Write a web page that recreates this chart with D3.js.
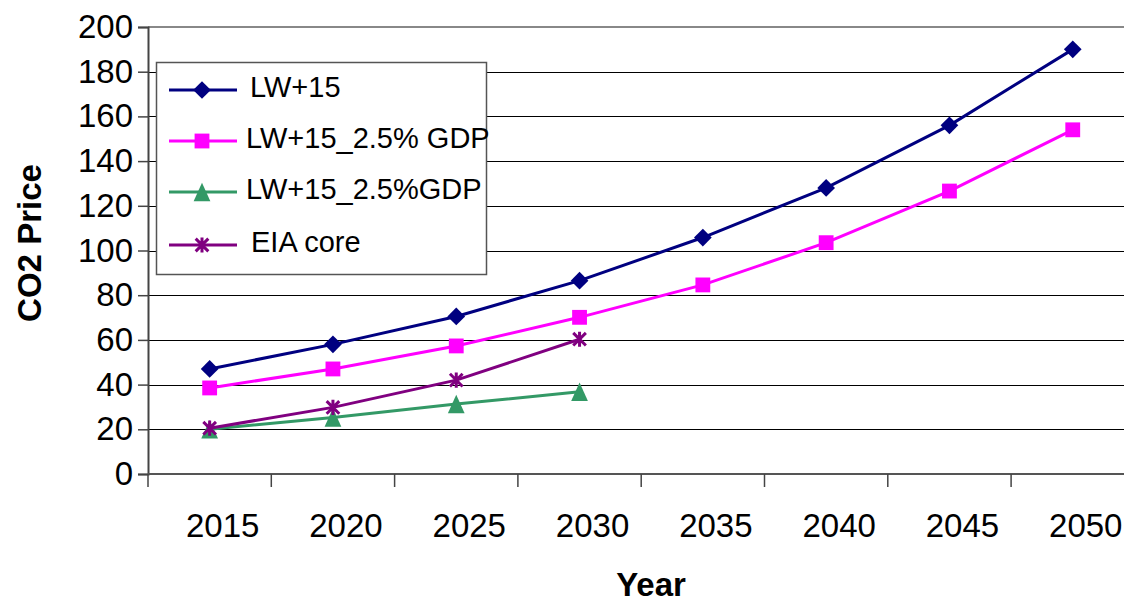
<!DOCTYPE html>
<html>
<head>
<meta charset="utf-8">
<script src="https://cdn.jsdelivr.net/npm/d3@7"></script>
<style>
  body { margin: 0; background: #fff; }
  svg { display: block; font-family: Arial, 'Liberation Sans', sans-serif; }
</style>
</head>
<body>
<div id="chart"></div>
<script>
const years = ['2015', '2020', '2025', '2030', '2035', '2040', '2045', '2050'];
const yTicks = [0, 20, 40, 60, 80, 100, 120, 140, 160, 180, 200];

const lw15 = [47, 58, 70.5, 86.5, 105.8, 128, 156, 190];
const lw15Gdp = [38.5, 47, 57.3, 70.1, 84.6, 103.5, 126.6, 154];
const lw15Gdp2 = [20, 25.3, 31.3, 36.8];
const eiaCore = [20.5, 29.8, 42, 60.3];

const seriesNames = ['LW+15', 'LW+15_2.5% GDP', 'LW+15_2.5%GDP', 'EIA core'];
const seriesColors = ['#000080', '#FF00FF', '#339966', '#800080'];

// Excel-style star marker: X plus a vertical bar
const symbolStar = {
  draw(context, size) {
    const r = Math.sqrt(size) / 2;
    context.moveTo(-r, -r); context.lineTo(r, r);
    context.moveTo(-r, r); context.lineTo(r, -r);
    context.moveTo(0, -r * 1.2); context.lineTo(0, r * 1.2);
  }
};

// Excel-style triangle, a bit taller than d3's
const symbolTri = {
  draw(context, size) {
    const w = Math.sqrt(size) / 2;
    const h = w * 1.1;
    context.moveTo(0, -h);
    context.lineTo(w, h);
    context.lineTo(-w, h);
    context.closePath();
  }
};

const series = [
  { name: seriesNames[0], values: lw15, color: seriesColors[0], symbol: d3.symbolDiamond2, size: 200, stroke: false },
  { name: seriesNames[1], values: lw15Gdp, color: seriesColors[1], symbol: d3.symbolSquare2, size: 280, stroke: false },
  { name: seriesNames[2], values: lw15Gdp2, color: seriesColors[2], symbol: symbolTri, size: 280, stroke: false },
  { name: seriesNames[3], values: eiaCore, color: seriesColors[3], symbol: symbolStar, size: 160, stroke: true },
];

const width = 1124;
const height = 603;
const marginTop = 27;
const marginLeft = 148;
const marginBottom = 129;
const band = 123.3;

const xScale = d3
  .scaleBand()
  .domain(years)
  .range([marginLeft, marginLeft + band * years.length]);

const yScale = d3
  .scaleLinear()
  .domain([0, 200])
  .range([height - marginBottom, marginTop]);

const svg = d3
  .select('#chart')
  .append('svg')
  .attr('width', width)
  .attr('height', height);

const plotRight = marginLeft + band * years.length;

// Gridlines
svg
  .append('g')
  .selectAll('line')
  .data(yTicks.filter((d) => d > 0 && d < 200))
  .join('line')
  .attr('x1', marginLeft)
  .attr('x2', plotRight)
  .attr('y1', (d) => Math.round(yScale(d)) + 0.5)
  .attr('y2', (d) => Math.round(yScale(d)) + 0.5)
  .attr('stroke', '#000')
  .attr('stroke-width', 1);

// Top border of plot area
svg
  .append('line')
  .attr('x1', marginLeft)
  .attr('x2', plotRight)
  .attr('y1', yScale(200))
  .attr('y2', yScale(200))
  .attr('stroke', '#888')
  .attr('stroke-width', 2);

// Y axis
svg
  .append('g')
  .attr('transform', `translate(${marginLeft},0)`)
  .call(d3.axisLeft(yScale).tickValues(yTicks).tickSize(10).tickPadding(5))
  .call((g) => g.select('.domain').attr('stroke', '#444').attr('stroke-width', 2))
  .call((g) => g.selectAll('.tick line').attr('stroke', '#444').attr('stroke-width', 1.5))
  .call((g) =>
    g.selectAll('.tick text')
      .attr('font-size', 33)
      .attr('fill', '#000')
      .attr('font-family', 'Arial, Liberation Sans, sans-serif')
  );

// X axis (category axis with ticks between categories)
const xAxis = svg.append('g');
xAxis
  .append('line')
  .attr('x1', marginLeft)
  .attr('x2', plotRight)
  .attr('y1', yScale(0))
  .attr('y2', yScale(0))
  .attr('stroke', '#555')
  .attr('stroke-width', 2);

xAxis
  .selectAll('.xtick')
  .data(years)
  .join('line')
  .attr('class', 'xtick')
  .attr('x1', (d) => xScale(d))
  .attr('x2', (d) => xScale(d))
  .attr('y1', yScale(0))
  .attr('y2', yScale(0) + 13)
  .attr('stroke', '#444')
  .attr('stroke-width', 1.5);

xAxis
  .selectAll('.xlabel')
  .data(years)
  .join('text')
  .attr('class', 'xlabel')
  .attr('x', (d) => xScale(d) + xScale.bandwidth() / 2 + 13)
  .attr('y', 537)
  .attr('text-anchor', 'middle')
  .attr('font-size', 33)
  .text((d) => d);

// Axis titles
svg
  .append('text')
  .attr('x', 651)
  .attr('y', 596)
  .attr('text-anchor', 'middle')
  .attr('font-size', 33)
  .attr('font-weight', 'bold')
  .text('Year');

svg
  .append('text')
  .attr('transform', 'translate(41,243) rotate(-90)')
  .attr('text-anchor', 'middle')
  .attr('font-size', 33)
  .attr('font-weight', 'bold')
  .text('CO2 Price');

// Lines and markers
const line = d3
  .line()
  .x((d, i) => xScale(years[i]) + xScale.bandwidth() / 2)
  .y((d) => yScale(d));

const seriesG = svg
  .append('g')
  .selectAll('g')
  .data(series)
  .join('g');

seriesG
  .append('path')
  .attr('fill', 'none')
  .attr('stroke', (d) => d.color)
  .attr('stroke-width', 3)
  .attr('d', (d) => line(d.values));

seriesG.each(function (s) {
  d3.select(this)
    .selectAll('path.marker')
    .data(s.values)
    .join('path')
    .attr('class', 'marker')
    .attr('transform', (d, i) =>
      `translate(${xScale(years[i]) + xScale.bandwidth() / 2},${yScale(d)})`)
    .attr('d', d3.symbol(s.symbol, s.size))
    .attr('fill', s.stroke ? 'none' : s.color)
    .attr('stroke', s.color)
    .attr('stroke-width', s.stroke ? 3 : 0);
});

// Legend
const legend = svg.append('g');
legend
  .append('rect')
  .attr('x', 156.5)
  .attr('y', 62.5)
  .attr('width', 330)
  .attr('height', 212)
  .attr('fill', '#fff')
  .attr('stroke', '#555')
  .attr('stroke-width', 1.5);

const legendRows = [90, 141, 192, 245];
const legendTextX = [250, 246, 246, 251];

const item = legend
  .selectAll('g')
  .data(series)
  .join('g')
  .attr('transform', (d, i) => `translate(0,${legendRows[i]})`);

item
  .append('line')
  .attr('x1', 169)
  .attr('x2', 237)
  .attr('stroke', (d) => d.color)
  .attr('stroke-width', 3);

item
  .append('path')
  .attr('transform', 'translate(202,0)')
  .attr('d', (d) => d3.symbol(d.symbol, d.size)())
  .attr('fill', (d) => (d.stroke ? 'none' : d.color))
  .attr('stroke', (d) => d.color)
  .attr('stroke-width', (d) => (d.stroke ? 3 : 0));

item
  .append('text')
  .attr('x', (d, i) => legendTextX[i])
  .attr('y', 7)
  .attr('font-size', 29)
  .text((d) => d.name);
</script>
</body>
</html>
